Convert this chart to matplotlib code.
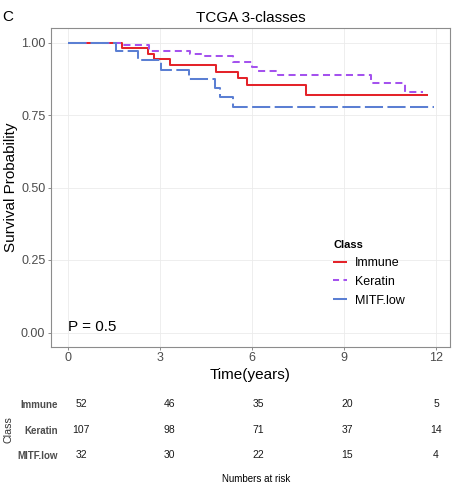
import numpy as np
import matplotlib
matplotlib.use("Agg")
import matplotlib.pyplot as plt
from matplotlib.lines import Line2D

plt.rcParams['font.family'] = ['Liberation Sans', 'DejaVu Sans']

# Kaplan-Meier curves (time in years, survival)
immune_t = [0, 1.76, 2.58, 2.78, 3.30, 4.83, 5.54, 5.82, 7.76, 11.74]
immune_s = [1.0, 0.981, 0.962, 0.943, 0.922, 0.900, 0.877, 0.855, 0.818, 0.818]

keratin_t = [0, 1.76, 2.62, 3.95, 4.45, 5.38, 5.98, 6.20, 6.84, 9.88, 10.98, 11.58]
keratin_s = [1.0, 0.991, 0.972, 0.962, 0.953, 0.932, 0.916, 0.902, 0.889, 0.861, 0.829, 0.829]

mitf_t = [0, 1.54, 2.28, 3.02, 3.92, 4.77, 4.93, 5.38, 11.93]
mitf_s = [1.0, 0.969, 0.938, 0.906, 0.875, 0.844, 0.8125, 0.778, 0.778]

classes = ["Immune", "Keratin", "MITF.low"]
risk_times = [0, 3, 6, 9, 12]
risk_immune = [52, 46, 35, 20, 5]
risk_keratin = [107, 98, 71, 37, 14]
risk_mitf = [32, 30, 22, 15, 4]

colors = ["#E4232A", "#A452EE", "#5B7FD3"]
dashes = [None, (3.5, 2.2), (9, 2.2)]
leg_dashes = [None, (3.0, 2.2), None]     # в легенде MITF.low выглядит сплошной

W, H = 455, 487
fig = plt.figure(figsize=(W / 100, H / 100), dpi=100)

def px(x0, y0, x1, y1):
    ''' прямоугольник в пикселях -> доли фигуры '''
    return [x0 / W, 1 - y1 / H, (x1 - x0) / W, (y1 - y0) / H]

# ---- основной график
ax = fig.add_axes(px(50.7, 28, 450, 347))
lw = 1.45
curves = [(immune_t, immune_s), (keratin_t, keratin_s), (mitf_t, mitf_s)]
handles = []
for (t, s), c, d, ld, name in zip(curves, colors, dashes, leg_dashes, classes):
    line, = ax.step(t, s, where='post', color=c, linewidth=lw, label=name,
                    solid_capstyle='butt', dash_capstyle='butt')
    if d:
        line.set_dashes(d)
    h = Line2D([], [], color=c, linewidth=lw, dash_capstyle='butt',
               solid_capstyle='butt')
    if ld:
        h.set_dashes(ld)
    handles.append(h)

ax.set_xlim(-0.58, 12.45)
ax.set_ylim(-0.05, 1.05)
ax.set_xticks([0, 3, 6, 9, 12])
ax.set_yticks([0, 0.25, 0.5, 0.75, 1.0])
ax.set_yticklabels(["0.00", "0.25", "0.50", "0.75", "1.00"])
ax.grid(True, color="#EBEBEB", linewidth=0.6)
ax.set_axisbelow(True)
for sp in ax.spines.values():
    sp.set_color("#8C8C8C")
    sp.set_linewidth(0.8)
ax.tick_params(length=2.3, width=0.7, color="#8C8C8C", labelcolor="#4D4D4D",
               labelsize=9, pad=1.6)

ax.set_title("TCGA 3-classes", fontsize=11, pad=4.5)
ax.set_xlabel("Time(years)", fontsize=11)
ax.xaxis.set_label_coords(0.5, -0.066)
ax.set_ylabel("Survival Probability", fontsize=11)
ax.yaxis.set_label_coords(-0.083, 0.5)

ax.text(0, 0.02, "P = 0.5", fontsize=11, ha='left', va='center')

leg = ax.legend(handles, classes, title="Class", loc='upper left',
                bbox_to_anchor=(333 / W, 1 - 240 / H),
                bbox_transform=fig.transFigure, frameon=False,
                fontsize=9, title_fontsize=8, handlelength=1.15,
                handletextpad=0.6, labelspacing=0.55, borderpad=0,
                borderaxespad=0, alignment='left')
leg.get_title().set_fontweight('bold')

fig.text(2 / W, 1 - 17 / H, "C", fontsize=11, ha='left', va='center')

# ---- таблица numbers at risk
tab = fig.add_axes(px(62, 391.5, 450, 468))
tab.set_xlim(-0.642, 12.47)
tab.set_ylim(2.5, -0.5)
for row, vals in enumerate([risk_immune, risk_keratin, risk_mitf]):
    for t, n in zip(risk_times, vals):
        tab.text(t, row, str(n), fontsize=7.5, ha='center', va='center',
                 color="#1A1A1A")
tab.set_yticks([0, 1, 2])
tab.set_yticklabels(classes, fontsize=7, fontweight='bold', color="#4D4D4D")
tab.tick_params(axis='y', length=0, pad=3)
tab.set_xticks([])
for sp in tab.spines.values():
    sp.set_visible(False)
tab.set_xlabel("Numbers at risk", fontsize=7, labelpad=4)
tab.set_ylabel("Class", fontsize=7.7, color="#333333")
tab.yaxis.set_label_coords((13 - 62) / (450 - 62), 0.5)

fig.savefig("out.png", dpi=100)
